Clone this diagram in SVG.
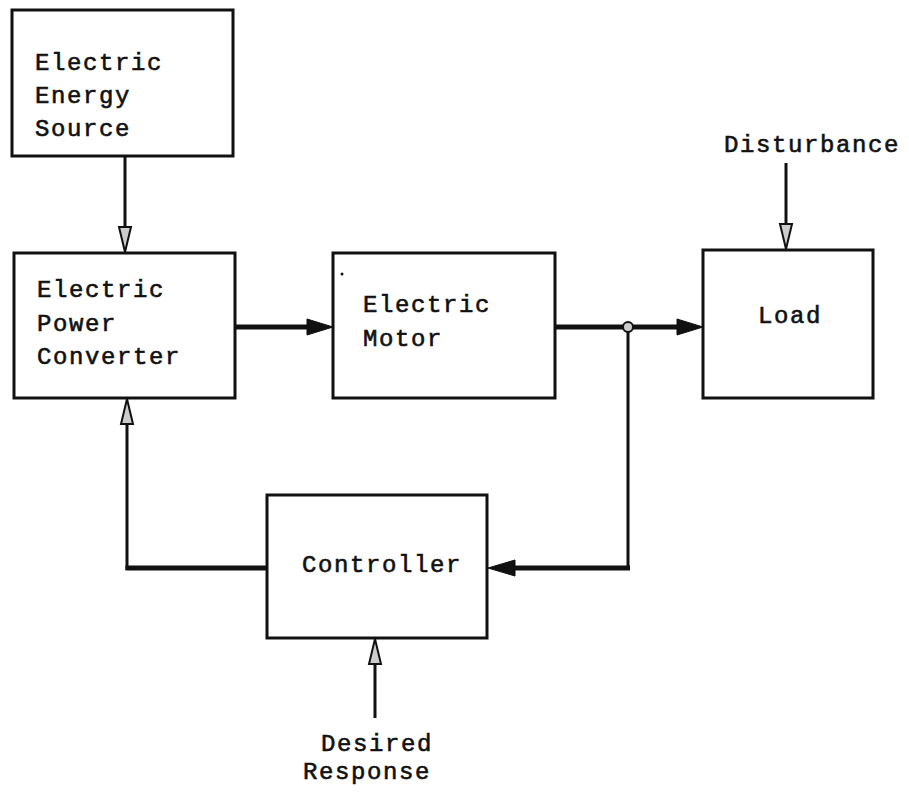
<svg xmlns="http://www.w3.org/2000/svg" width="909" height="792" viewBox="0 0 909 792">
<style>
.box{fill:#fff;stroke:#111;stroke-width:3}
.t{font-family:"Liberation Mono","DejaVu Sans Mono",monospace;font-size:24px;letter-spacing:1.6px;fill:#111;stroke:#111;stroke-width:0.6px}
.thin{fill:none;stroke:#111;stroke-width:3}
.thick{fill:none;stroke:#111;stroke-width:5}
.hollow{fill:#ccc;stroke:#111;stroke-width:2}
.solid{fill:#111;stroke:#111;stroke-width:1}
</style>
<rect width="909" height="792" fill="#fff"/>
<g id="connectors">
  <path class="thin" d="M125,156 V228"/>
  <path class="hollow" d="M119,227 L131,227 L125,252 Z"/>
  <path class="thick" d="M235,327 H310"/>
  <path class="solid" d="M307,319 L333,327 L307,335 Z"/>
  <path class="thick" d="M555,327 H680"/>
  <path class="solid" d="M677,319 L703,327 L677,335 Z"/>
  <path class="thin" d="M628,327 V566"/>
  <path class="thick" d="M630,568 H512"/>
  <path class="solid" d="M515,560 L488,568 L515,576 Z"/>
  <path class="thick" d="M267,568 H125.5"/>
  <path class="thin" d="M127,570 V423"/>
  <path class="hollow" d="M121,424 L133,424 L127,399 Z"/>
  <path class="thin" d="M786,163 V225"/>
  <path class="hollow" d="M780,224 L792,224 L786,249 Z"/>
  <path class="thin" d="M375,718 V663"/>
  <path class="hollow" d="M369,664 L381,664 L375,639 Z"/>
  <circle cx="628" cy="327" r="5" fill="#ccc" stroke="#111" stroke-width="2"/>
</g>
<g id="source">
  <rect class="box" x="12" y="10" width="221" height="146"/>
  <text class="t" x="35" y="70">Electric</text>
  <text class="t" x="35" y="103">Energy</text>
  <text class="t" x="35" y="136">Source</text>
</g>
<g id="converter">
  <rect class="box" x="14" y="253" width="221" height="145"/>
  <text class="t" x="37" y="297">Electric</text>
  <text class="t" x="37" y="331">Power</text>
  <text class="t" x="37" y="364">Converter</text>
</g>
<g id="motor">
  <rect class="box" x="333" y="253" width="222" height="145"/>
  <circle cx="342" cy="274" r="1.5" fill="#111"/>
  <text class="t" x="363" y="312">Electric</text>
  <text class="t" x="363" y="346">Motor</text>
</g>
<g id="load">
  <rect class="box" x="703" y="250" width="170" height="148"/>
  <text class="t" x="758" y="323">Load</text>
</g>
<g id="disturbance">
  <text class="t" x="724" y="152">Disturbance</text>
</g>
<g id="controller">
  <rect class="box" x="267" y="495" width="220" height="143"/>
  <text class="t" x="302" y="572">Controller</text>
</g>
<g id="desired">
  <text class="t" x="321" y="751">Desired</text>
  <text class="t" x="303" y="779">Response</text>
</g>
</svg>
